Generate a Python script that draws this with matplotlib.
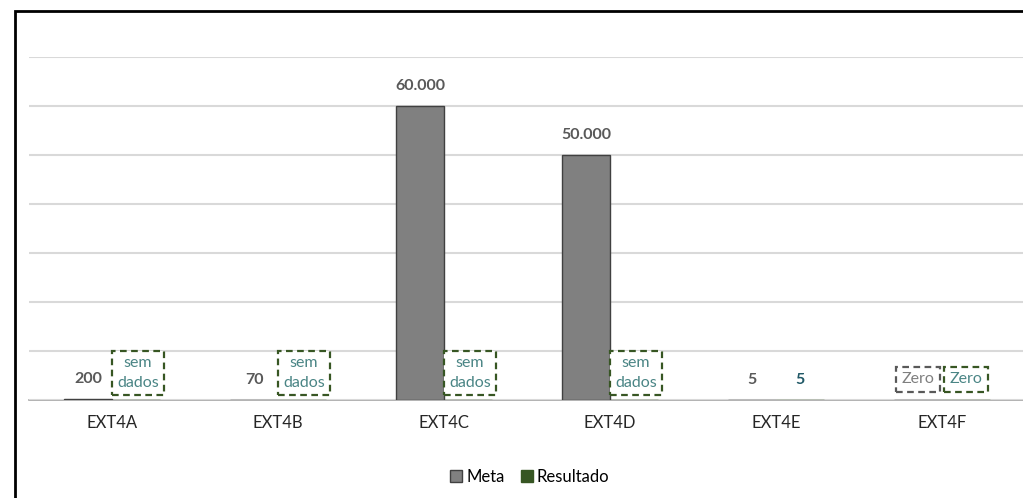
import numpy as np
import matplotlib.pyplot as plt
import matplotlib.patches as mpatches

plt.rcParams["font.family"] = ["Lato", "DejaVu Sans"]

# ── Dados ────────────────────────────────────────────────────────────────────
categorias = ["EXT4A", "EXT4B", "EXT4C", "EXT4D", "EXT4E", "EXT4F"]
meta       = [200, 70, 60000, 50000, 5, 0]
resultado  = [np.nan, np.nan, np.nan, np.nan, 5, 0]   # nan = sem dados

COR_META  = "#808080"
COR_RES   = "#375623"
COR_GRID  = "#D9D9D9"


def fmt(v):
    # separador de milhar com ponto
    return f"{v:,.0f}".replace(",", ".")


fig = plt.figure(figsize=(10.23, 4.98), dpi=100)
ax = fig.add_axes([29 / 1023, 98 / 498, 996 / 1023, 343 / 498])

x = np.arange(len(categorias))
w = 0.289

ax.bar(x - w / 2, meta, w, color=COR_META, edgecolor="#404040", linewidth=1.0,
       label="Meta", zorder=3)
ax.bar(x + w / 2, np.nan_to_num(resultado), w, color=COR_RES, edgecolor=COR_RES,
       linewidth=1.0, label="Resultado", zorder=3)

ax.set_xlim(-0.5, len(categorias) - 0.5)
ax.set_ylim(0, 70000)
ax.set_yticks(np.arange(0, 70001, 10000))
ax.yaxis.grid(True, color=COR_GRID, linewidth=1.5, zorder=0)
ax.tick_params(axis="y", left=False, labelleft=False)
ax.tick_params(axis="x", length=0, pad=11, labelsize=12, colors="#262626")
ax.set_xticks(x)
ax.set_xticklabels(categorias)
for s in ["top", "right", "left"]:
    ax.spines[s].set_visible(False)
ax.spines["bottom"].set_color("#A6A6A6")
ax.spines["bottom"].set_linewidth(1.2)
ax.spines["bottom"].set_zorder(1)

# ── Rótulos ──────────────────────────────────────────────────────────────────
def rotulo(xp, v, cor_txt, cor_box, cor_zero):
    if np.isnan(v):
        ax.annotate("sem\ndados", (xp, 0), xytext=(1.5, 19.5), textcoords="offset points",
                    ha="center", va="center", fontsize=11.5, color="#4A8585",
                    linespacing=1.55, zorder=5,
                    bbox=dict(boxstyle="square,pad=0.3", fc="white", ec=cor_box,
                              ls=(0, (3, 2)), lw=1.6))
    elif v == 0:
        ax.annotate("Zero", (xp, 0), xytext=(0, 15), textcoords="offset points",
                    ha="center", va="center", fontsize=11.5, color=cor_zero,
                    zorder=5,
                    bbox=dict(boxstyle="square,pad=0.35", fc="white", ec=cor_box,
                              ls=(0, (3, 2)), lw=1.6))
    else:
        ax.annotate(fmt(v), (xp, v), xytext=(0, 14.5), textcoords="offset points",
                    ha="center", va="center", fontsize=11.5, fontweight="bold",
                    color=cor_txt, zorder=5)


for i in range(len(categorias)):
    rotulo(x[i] - w / 2, meta[i], "#595959", "#595959", "#7F7F7F")
    rotulo(x[i] + w / 2, resultado[i], "#215967", COR_RES, "#4A8585")

# ── Legenda ──────────────────────────────────────────────────────────────────
handles = [
    mpatches.Patch(facecolor=COR_META, edgecolor="#404040", label="Meta"),
    mpatches.Patch(facecolor=COR_RES, edgecolor=COR_RES, label="Resultado"),
]
fig.legend(handles=handles, loc="center", bbox_to_anchor=(0.518, 0.042), ncol=2,
           frameon=False, fontsize=12, handlelength=0.7, handleheight=0.7,
           handletextpad=0.25, columnspacing=1.0)

# moldura preta (lado esquerdo e topo visíveis)
fig.patches.append(mpatches.Rectangle((15 / 1023, -0.1), 1.2, 1 - 11 / 498 + 0.1,
                                      transform=fig.transFigure, fill=False,
                                      edgecolor="black", linewidth=2, clip_on=False))

fig.savefig("out.png", dpi=100)
